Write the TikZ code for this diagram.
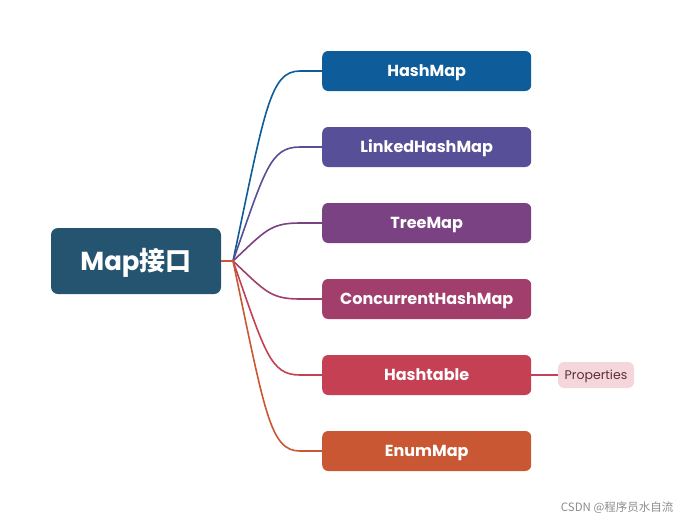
\documentclass[tikz,border=0pt]{standalone}
\usepackage{fontspec}
\setmainfont{Poppins}
\newfontfamily\cjk{Noto Sans CJK SC}
\usetikzlibrary{positioning}

\definecolor{rootcol}{HTML}{245470}
\definecolor{hmcol}{HTML}{0E5C99}
\definecolor{lhmcol}{HTML}{574F97}
\definecolor{tmcol}{HTML}{7A4283}
\definecolor{chmcol}{HTML}{A23E6B}
\definecolor{htcol}{HTML}{C44052}
\definecolor{emcol}{HTML}{C95733}
\definecolor{propfill}{HTML}{F5D7DB}
\definecolor{proptext}{HTML}{5B2D3A}

\tikzset{
  leaf/.style={rectangle, rounded corners=6pt, minimum width=209pt, minimum height=40pt,
    text height=11.5pt, text depth=0pt, inner sep=0pt,
    text=white, anchor=west, font=\fontsize{16}{19}\selectfont\bfseries},
  branch/.style={line width=1.6pt},
}

\begin{document}
\begin{tikzpicture}[x=1pt,y=-1pt]
\useasboundingbox (0,0) rectangle (684,522);

\node[rectangle, rounded corners=7pt, fill=rootcol, minimum width=170pt, minimum height=66pt,
  text height=19pt, text depth=0pt, inner sep=0pt,
  text=white, font=\fontsize{26}{31}\selectfont\bfseries] (root) at (136,261) {Map\cjk 接口};
\coordinate (hub) at (233,261);

\node[leaf, fill=hmcol] (hashmap) at (322,71) {HashMap};
\node[leaf, fill=lhmcol] (linked) at (322,147) {LinkedHashMap};
\node[leaf, fill=tmcol] (treemap) at (322,223) {TreeMap};
\node[leaf, fill=chmcol] (concurrent) at (322,299) {ConcurrentHashMap};
\node[leaf, fill=htcol] (hashtable) at (322,375) {Hashtable};
\node[leaf, fill=emcol] (enummap) at (322,451) {EnumMap};

\node[rectangle, rounded corners=6pt, fill=propfill, minimum width=76pt, minimum height=26pt,
  text height=9pt, text depth=0pt, inner sep=0pt,
  text=proptext, font=\fontsize{12.5}{15}\selectfont] (props) at (596,375) {Properties};

\draw[branch, hmcol] (root.east) -- (hub) .. controls (265,109) and (270,71) .. (300,71) -- (hashmap.west);
\draw[branch, lhmcol] (root.east) -- (hub) .. controls (265,170) and (270,147) .. (300,147) -- (linked.west);
\draw[branch, tmcol] (root.east) -- (hub) .. controls (265,231) and (270,223) .. (300,223) -- (treemap.west);
\draw[branch, chmcol] (root.east) -- (hub) .. controls (265,291) and (270,299) .. (300,299) -- (concurrent.west);
\draw[branch, htcol] (root.east) -- (hub) .. controls (265,352) and (270,375) .. (300,375) -- (hashtable.west);
\draw[branch, emcol] (root.east) -- (hub) .. controls (265,413) and (270,451) .. (300,451) -- (enummap.west);
\draw[branch, htcol] (hashtable.east) -- (props.west);

% watermark
\node[anchor=east, text=black!45, font=\cjk\fontsize{11.5}{14}\selectfont] (mark) at (677,508) {CSDN @程序员水自流};
\end{tikzpicture}
\end{document}
